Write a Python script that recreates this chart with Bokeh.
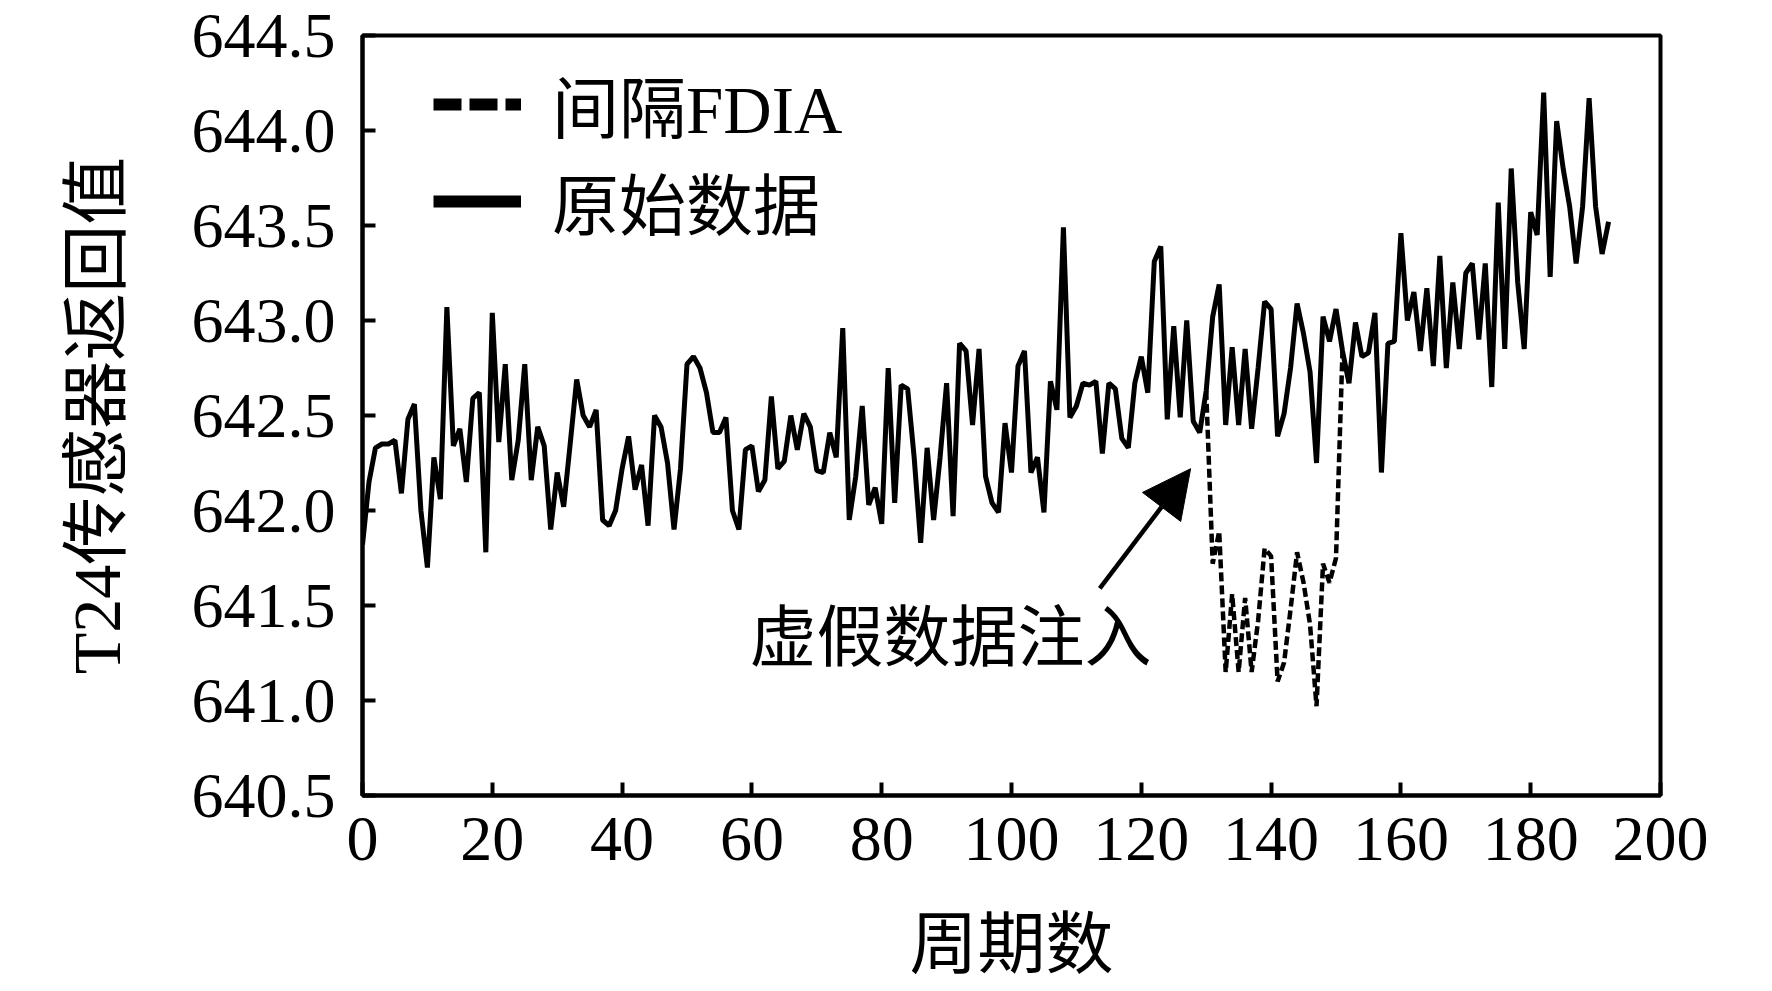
from bokeh.plotting import figure
from bokeh.models import (Range1d, FixedTicker, PrintfTickFormatter, Legend, LegendItem,
                          Arrow, NormalHead, Label)
from bokeh.embed import file_html
from bokeh.resources import INLINE

# ---------------- data ----------------
cycles = list(range(0, 193))
original = [
    641.82, 642.15, 642.33, 642.35, 642.35, 642.37, 642.09, 642.48, 642.56, 642.00,
    641.70, 642.28, 642.06, 643.07, 642.34, 642.43, 642.15, 642.59, 642.62, 641.78,
    643.04, 642.36, 642.77, 642.16, 642.37, 642.77, 642.16, 642.44, 642.34, 641.90,
    642.20, 642.02, 642.35, 642.69, 642.50, 642.44, 642.53, 641.95, 641.92, 642.00,
    642.22, 642.39, 642.11, 642.24, 641.92, 642.50, 642.44, 642.25, 641.90, 642.22,
    642.77, 642.81, 642.75, 642.62, 642.41, 642.41, 642.49, 642.00, 641.90, 642.32,
    642.34, 642.10, 642.16, 642.60, 642.22, 642.26, 642.50, 642.32, 642.51, 642.44,
    642.21, 642.20, 642.41, 642.28, 642.96, 641.95, 642.18, 642.55, 642.03, 642.12,
    641.93, 642.75, 642.04, 642.66, 642.64, 642.28, 641.83, 642.33, 641.95, 642.28,
    642.67, 641.97, 642.88, 642.84, 642.45, 642.85, 642.18, 642.04, 641.99, 642.46,
    642.20, 642.76, 642.84, 642.20, 642.28, 641.99, 642.68, 642.53, 643.49, 642.49,
    642.55, 642.67, 642.66, 642.68, 642.30, 642.67, 642.64, 642.38, 642.33, 642.67,
    642.81, 642.62, 643.31, 643.39, 642.48, 642.97, 642.49, 643.00, 642.47, 642.41,
    642.63, 643.02, 643.19, 642.45, 642.86, 642.45, 642.85, 642.43, 642.75, 643.10,
    643.06, 642.39, 642.51, 642.75, 643.09, 642.93, 642.73, 642.25, 643.02, 642.89,
    643.06, 642.84, 642.67, 642.99, 642.81, 642.83, 643.04, 642.20, 642.88, 642.89,
    643.46, 643.00, 643.15, 642.84, 643.17, 642.76, 643.34, 642.75, 643.20, 642.85,
    643.25, 643.30, 642.90, 643.30, 642.65, 643.62, 642.85, 643.80, 643.20, 642.85,
    643.57, 643.45, 644.20, 643.23, 644.05, 643.80, 643.60, 643.30, 643.60, 644.17,
    643.60, 643.35, 643.52,
]
fdia_cycles = list(range(130, 152))
fdia = [
    642.63, 641.72, 641.89, 641.15, 641.56, 641.15, 641.54, 641.15, 641.42, 641.80,
    641.76, 641.10, 641.20, 641.48, 641.78, 641.62, 641.40, 640.97, 641.72, 641.62,
    641.75, 642.84,
]
x_ticks = [0, 20, 40, 60, 80, 100, 120, 140, 160, 180, 200]
y_ticks = [640.5, 641.0, 641.5, 642.0, 642.5, 643.0, 643.5, 644.0, 644.5]
legend_labels = ["间隔FDIA", "原始数据"]
annotation_text = "虚假数据注入"
x_label = "周期数"
y_label = "T24传感器返回值"

# ---------------- styling ----------------
LATIN = "Liberation Serif"
MIXED = "Liberation Serif, Noto Sans CJK SC"

p = figure(frame_width=1298, frame_height=760, output_backend="svg", toolbar_location=None,
           x_range=Range1d(0, 200), y_range=Range1d(640.5, 644.5),
           min_border_left=362, min_border_right=96, min_border_top=35,
           min_border_bottom=180)
p.background_fill_color = "white"
p.border_fill_color = "white"
p.grid.visible = False
p.outline_line_color = "black"
p.outline_line_width = 4

for ax in (p.xaxis[0], p.yaxis[0]):
    ax.axis_line_width = 4
    ax.axis_line_color = "black"
    ax.major_tick_in = 13
    ax.major_tick_out = 0
    ax.major_tick_line_width = 4
    ax.major_tick_line_color = "black"
    ax.minor_tick_line_color = None
    ax.major_label_text_font = LATIN
    ax.major_label_text_font_size = "64px"
    ax.major_label_text_color = "black"
    ax.axis_label_text_font = MIXED
    ax.axis_label_text_font_style = "normal"
    ax.axis_label_text_color = "black"

p.xaxis[0].ticker = FixedTicker(ticks=x_ticks)
p.yaxis[0].ticker = FixedTicker(ticks=y_ticks)
p.yaxis[0].formatter = PrintfTickFormatter(format="%.1f")
p.xaxis[0].major_label_standoff = 22
p.yaxis[0].major_label_standoff = 27
p.xaxis[0].axis_label = x_label
p.yaxis[0].axis_label = y_label
p.xaxis[0].axis_label_text_font_size = "68px"
p.yaxis[0].axis_label_text_font_size = "68px"
p.xaxis[0].axis_label_standoff = 44
p.yaxis[0].axis_label_standoff = 54

# data lines
p.line(fdia_cycles, fdia, line_color="black", line_width=4.5, line_dash="9 4")
p.line(cycles, original, line_color="black", line_width=5)

# legend proxies (hidden copies with thicker strokes, as in the reference legend)
leg_fdia = p.line(fdia_cycles, fdia, line_color="black", line_width=12,
                  line_dash="28 8", visible=False)
leg_orig = p.line(cycles, original, line_color="black", line_width=12, visible=False)
legend = Legend(items=[LegendItem(label=legend_labels[0], renderers=[leg_fdia]),
                       LegendItem(label=legend_labels[1], renderers=[leg_orig])],
                location=(71, 546), orientation="vertical",
                glyph_width=88, glyph_height=94, label_height=94, spacing=0,
                label_standoff=31, padding=0, margin=0,
                border_line_color=None, background_fill_alpha=0,
                inactive_fill_alpha=0,
                label_text_font=MIXED, label_text_font_size="67px",
                label_text_color="black")
p.add_layout(legend)

# annotation
p.add_layout(Arrow(end=NormalHead(size=48, fill_color="black", line_color="black"),
                   x_start=113.6, y_start=641.59, x_end=127.6, y_end=642.22,
                   line_width=4.5, line_color="black"))
p.add_layout(Label(x=90.6, y=641.33, text=annotation_text, text_align="center",
                   text_baseline="middle", text_font=MIXED, text_font_size="67px",
                   text_color="black"))

open("out.html", "w").write(file_html(p, INLINE))
